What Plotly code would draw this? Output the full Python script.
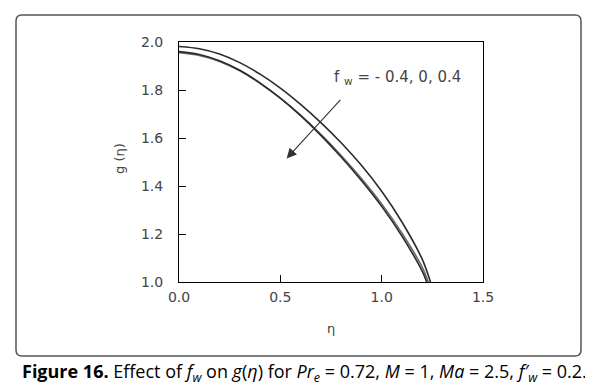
import plotly.graph_objects as go

# Data
eta_a = [0.0, 0.1, 0.2, 0.3, 0.4, 0.5, 0.6, 0.7, 0.8, 0.9, 1.0, 1.1, 1.2, 1.241]
g_a = [1.981, 1.972, 1.950, 1.914, 1.866, 1.808, 1.740, 1.664, 1.580, 1.486, 1.378, 1.250, 1.095, 1.000]

eta_b = [0.0, 0.1, 0.2, 0.3, 0.4, 0.5, 0.6, 0.7, 0.8, 0.9, 1.0, 1.1, 1.2, 1.230]
g_b = [1.955, 1.944, 1.919, 1.880, 1.828, 1.766, 1.695, 1.615, 1.527, 1.431, 1.325, 1.203, 1.062, 1.000]

eta_c = [0.0, 0.1, 0.2, 0.3, 0.4, 0.5, 0.6, 0.7, 0.8, 0.9, 1.0, 1.1, 1.2, 1.222]
g_c = [1.960, 1.948, 1.922, 1.882, 1.829, 1.766, 1.693, 1.611, 1.521, 1.423, 1.315, 1.191, 1.045, 1.000]

series = [("f_w = -0.4", eta_a, g_a, "#2b2b2b"),
          ("f_w = 0", eta_b, g_b, "#6a6a6a"),
          ("f_w = 0.4", eta_c, g_c, "#2b2b2b")]

x_ticks = [0.0, 0.5, 1.0, 1.5]
y_ticks = [1.0, 1.2, 1.4, 1.6, 1.8, 2.0]

# page body has an 8px margin, so the figure is shifted by that amount
OFF = 8
W, H = 593 - OFF, 390 - OFF
L, T = 179 - OFF, 42 - OFF
pw, ph = 304, 240
R, B = W - L - pw, H - T - ph

def px(xp):
    return (xp - OFF - L) / pw

def py(yp):
    return (T + ph - (yp - OFF)) / ph

TICKFONT = dict(family="DejaVu Sans", size=14, color="#444444")

fig = go.Figure()
for name, xs, ys, col in series:
    fig.add_trace(go.Scatter(x=xs, y=ys, mode="lines", name=name,
                             line=dict(color=col, width=1.6, shape="spline", smoothing=0.8),
                             showlegend=False, hoverinfo="skip"))

axis_common = dict(showgrid=False, zeroline=False, showline=True, linecolor="black",
                   linewidth=1, mirror=True, ticks="inside", ticklen=7, tickwidth=1.2,
                   tickcolor="black", tickfont=TICKFONT)

fig.update_xaxes(range=[0, 1.5], tickvals=x_ticks, ticktext=[f"{v:.1f}" for v in x_ticks],
                 ticklabelstandoff=2, **axis_common)
fig.update_yaxes(range=[1.0, 2.0], tickvals=y_ticks, ticktext=[f"{v:.1f}" for v in y_ticks],
                 ticklabelstandoff=12, **axis_common)

# axis titles
fig.add_annotation(x=px(331), y=py(328), xref="paper", yref="paper", text="η",
                   showarrow=False, xanchor="center", yanchor="middle",
                   font=dict(family="DejaVu Sans", size=13, color="#444444"))
fig.add_annotation(x=px(119), y=py(159), xref="paper", yref="paper", text="g (η)",
                   showarrow=False, xanchor="center", yanchor="middle", textangle=-90,
                   font=dict(family="DejaVu Sans", size=13, color="#444444"))

# outer rounded frame
x0, x1 = px(16), px(581)
y0, y1 = py(356), py(15)
rx, ry = 6 / pw, 6 / ph
path = (f"M {x0+rx},{y1} L {x1-rx},{y1} Q {x1},{y1} {x1},{y1-ry} "
        f"L {x1},{y0+ry} Q {x1},{y0} {x1-rx},{y0} L {x0+rx},{y0} "
        f"Q {x0},{y0} {x0},{y0+ry} L {x0},{y1-ry} Q {x0},{y1} {x0+rx},{y1} Z")
fig.add_shape(type="path", path=path, xref="paper", yref="paper",
              line=dict(color="#555555", width=1.5), layer="below")

# arrow annotation
fig.add_annotation(x=0.531, y=1.515, ax=0.803, ay=1.765, xref="x", yref="y",
                   axref="x", ayref="y", text="", showarrow=True,
                   arrowhead=2, arrowsize=1.8, arrowwidth=1.1, arrowcolor="#333333")
fig.add_annotation(x=px(332), y=py(77), xref="paper", yref="paper",
                   text="f <sub>w</sub> = - 0.4, 0, 0.4", showarrow=False,
                   xanchor="left", yanchor="middle",
                   font=dict(family="DejaVu Sans", size=15, color="#444444"))

# caption
fig.add_annotation(x=px(20), y=py(372), xref="paper", yref="paper",
                   text="<b>Figure 16.</b> Effect of <i>f<sub>w</sub></i> on <i>g</i>(<i>η</i>) for "
                        "<i>Pr<sub>e</sub></i> = 0.72, <i>M</i> = 1, <i>Ma</i> = 2.5, "
                        "<i>f′<sub>w</sub></i> = 0.2.",
                   showarrow=False, xanchor="left", yanchor="middle",
                   font=dict(family="Open Sans", size=18, color="black"))

fig.update_layout(width=W, height=H, margin=dict(l=L, r=R, t=T, b=B),
                  paper_bgcolor="white", plot_bgcolor="white")

fig.write_html("out.html")
